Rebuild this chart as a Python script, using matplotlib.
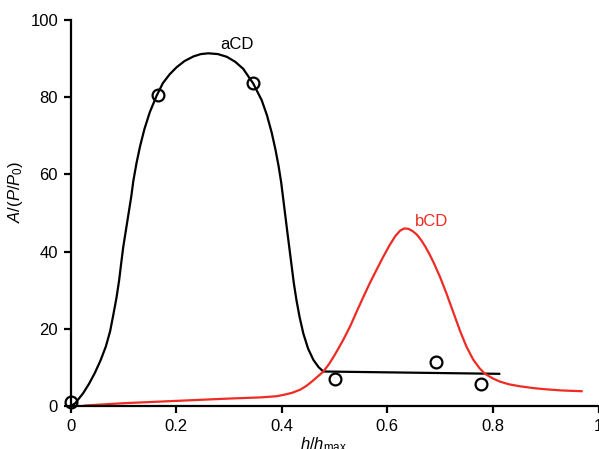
import matplotlib
matplotlib.use("Agg")
import matplotlib.pyplot as plt

plt.rcParams["font.family"] = ["Liberation Sans", "DejaVu Sans"]
plt.rcParams["mathtext.fontset"] = "custom"
plt.rcParams["mathtext.rm"] = "Liberation Sans"
plt.rcParams["mathtext.it"] = "Liberation Sans:italic"

# curva aCD
acd_x = [0.0, 0.009, 0.024, 0.035, 0.046, 0.057, 0.067, 0.075, 0.081, 0.087,
         0.092, 0.096, 0.100, 0.105, 0.110, 0.115, 0.119, 0.125, 0.132, 0.140,
         0.150, 0.163, 0.175, 0.188, 0.201, 0.216, 0.233, 0.247, 0.261, 0.279,
         0.296, 0.312, 0.327, 0.346, 0.362, 0.372, 0.381, 0.388, 0.394, 0.399,
         0.403, 0.407, 0.411, 0.415, 0.419, 0.423, 0.428, 0.434, 0.441, 0.450,
         0.460, 0.470, 0.479, 0.812]
acd_y = [0.0, 0.8, 3.4, 5.8, 8.6, 11.9, 15.5, 19.4, 23.6, 28.0,
         32.5, 37.0, 41.3, 45.6, 49.9, 54.2, 58.3, 62.9, 67.4, 71.7,
         76.0, 80.3, 83.6, 85.9, 87.7, 89.3, 90.5, 91.1, 91.3, 91.1,
         90.4, 89.1, 87.3, 83.5, 79.2, 75.3, 70.8, 66.5, 62.2, 57.9,
         53.5, 49.1, 44.7, 40.4, 36.1, 31.8, 27.4, 23.0, 18.8, 14.9,
         12.0, 10.1, 9.0, 8.4]

# curva bCD
bcd_x = [0.027, 0.10, 0.20, 0.30, 0.36, 0.39, 0.405, 0.42, 0.435, 0.447,
         0.458, 0.469, 0.479, 0.490, 0.500, 0.508, 0.517, 0.530, 0.542, 0.555,
         0.567, 0.580, 0.592, 0.604, 0.615, 0.624, 0.632, 0.640, 0.648, 0.656,
         0.664, 0.672, 0.680, 0.688, 0.700, 0.712, 0.725, 0.738, 0.750, 0.763,
         0.775, 0.785, 0.800, 0.813, 0.830, 0.850, 0.877, 0.900, 0.930, 0.968]
bcd_y = [0.2, 0.8, 1.4, 2.0, 2.3, 2.6, 3.0, 3.5, 4.3, 5.3,
         6.5, 7.8, 9.0, 11.0, 13.2, 15.1, 17.3, 20.8, 24.5, 28.4,
         31.9, 35.4, 38.6, 41.6, 44.0, 45.4, 46.0, 45.9, 45.3, 44.4,
         43.0, 41.3, 39.3, 37.1, 33.4, 29.2, 24.3, 19.4, 15.4, 12.0,
         9.8, 8.4, 7.2, 6.4, 5.7, 5.2, 4.7, 4.4, 4.1, 3.9]

# puntos experimentales
pts_x = [0.0, 0.166, 0.346, 0.501, 0.692, 0.777]
pts_y = [1.0, 80.5, 83.7, 7.0, 11.4, 5.8]

fig = plt.figure(figsize=(5.99, 4.49), dpi=100)
ax = fig.add_axes([0.1177, 0.0951, 0.8815, 0.8611])

ax.plot(acd_x, acd_y, color="black", lw=1.6, solid_joinstyle="round")
ax.plot(bcd_x, bcd_y, color="#ee2b24", lw=1.6, solid_joinstyle="round")
ax.plot(pts_x, pts_y, "o", mfc="none", mec="black", mew=1.6, ms=8.5, clip_on=False)

ax.text(0.315, 93.5, "aCD", color="black", fontsize=12, ha="center", va="center")
ax.text(0.683, 47.7, "bCD", color="#ee2b24", fontsize=12, ha="center", va="center")

ax.set_xlim(0, 1)
ax.set_ylim(0, 100)
ax.set_xticks([0, 0.2, 0.4, 0.6, 0.8, 1])
ax.set_xticklabels(["0", "0.2", "0.4", "0.6", "0.8", "1"])
ax.set_yticks([0, 20, 40, 60, 80, 100])

for s in ["top", "right"]:
    ax.spines[s].set_visible(False)
for s in ["left", "bottom"]:
    ax.spines[s].set_linewidth(1.6)
ax.tick_params(direction="out", length=5, width=1.6, labelsize=12, pad=4)

ax.set_xlabel(r"$h/h_{\mathrm{max}}$", fontsize=12)
ax.xaxis.set_label_coords(0.48, -0.075)
ax.set_ylabel(r"$A/(P/P_{\mathit{0}})$", fontsize=12)
ax.yaxis.set_label_coords(-0.086, 0.554)

fig.savefig("out.png", dpi=100)
